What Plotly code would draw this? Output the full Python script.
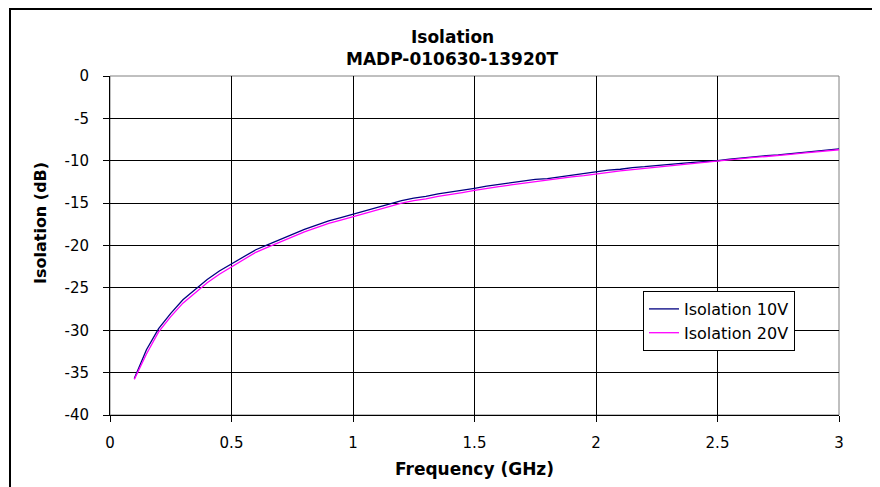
import plotly.graph_objects as go

freq = [0.10, 0.15, 0.20, 0.25, 0.30, 0.35, 0.40, 0.45, 0.50, 0.55,
        0.60, 0.65, 0.70, 0.75, 0.80, 0.85, 0.90, 0.95, 1.00, 1.05,
        1.10, 1.15, 1.20, 1.25, 1.30, 1.35, 1.40, 1.45, 1.50, 1.55,
        1.60, 1.65, 1.70, 1.75, 1.80, 1.85, 1.90, 1.95, 2.00, 2.05,
        2.10, 2.15, 2.20, 2.25, 2.30, 2.35, 2.40, 2.45, 2.50, 2.55,
        2.60, 2.65, 2.70, 2.75, 2.80, 2.85, 2.90, 2.95, 3.00]

iso_10v = [-35.7, -32.3, -29.8, -28.0, -26.4, -25.2, -24.0, -23.0, -22.2, -21.3,
           -20.5, -19.9, -19.3, -18.7, -18.1, -17.6, -17.1, -16.7, -16.3, -15.9,
           -15.5, -15.1, -14.7, -14.4, -14.2, -13.9, -13.7, -13.5, -13.25, -13.0,
           -12.8, -12.6, -12.4, -12.2, -12.1, -11.9, -11.7, -11.5, -11.3, -11.1,
           -11.0, -10.8, -10.7, -10.55, -10.4, -10.3, -10.2, -10.1, -10.0, -9.8,
           -9.65, -9.5, -9.4, -9.3, -9.15, -9.0, -8.85, -8.75, -8.6]

iso_20v = [-35.8, -32.8, -30.2, -28.4, -26.8, -25.6, -24.4, -23.4, -22.5, -21.6,
           -20.8, -20.2, -19.6, -19.0, -18.4, -17.9, -17.4, -17.0, -16.6, -16.2,
           -15.8, -15.4, -15.0, -14.7, -14.5, -14.2, -14.0, -13.75, -13.5, -13.25,
           -13.05, -12.85, -12.65, -12.45, -12.3, -12.1, -11.9, -11.75, -11.55, -11.35,
           -11.2, -11.05, -10.9, -10.75, -10.6, -10.45, -10.35, -10.2, -10.05, -9.9,
           -9.75, -9.6, -9.5, -9.4, -9.25, -9.1, -8.95, -8.85, -8.7]

x_ticks = [0, 0.5, 1, 1.5, 2, 2.5, 3]
x_tick_labels = ["0", "0.5", "1", "1.5", "2", "2.5", "3"]
y_ticks = [0, -5, -10, -15, -20, -25, -30, -35, -40]
y_tick_labels = ["0", "-5", "-10", "-15", "-20", "-25", "-30", "-35", "-40"]

FONT = "DejaVu Sans"
OFF = 8  # default page body margin
W, H = 880 - OFF, 487 - OFF
# page-pixel plot edges: left 110, right 839, top 76, bottom 415
L, T = 110 - OFF, 76 - OFF
R = W - (839 - OFF)
B = H - (415 - OFF)
PW, PH = W - L - R, H - T - B


def px(xp):
    return (xp - OFF - L) / PW


def py(yp):
    return (H - B - (yp - OFF)) / PH


fig = go.Figure()
fig.add_trace(go.Scatter(x=freq, y=iso_10v, mode="lines", name="Isolation 10V",
                         line=dict(color="#000080", width=1.3)))
fig.add_trace(go.Scatter(x=freq, y=iso_20v, mode="lines", name="Isolation 20V",
                         line=dict(color="#FF00FF", width=1.3)))

bx0, bx1, by0, by1 = px(10), px(1000), py(600), py(9)
fig.update_layout(
    width=W, height=H,
    margin=dict(l=L, r=R, t=T, b=B),
    paper_bgcolor="white", plot_bgcolor="white",
    font=dict(family=FONT, color="black", size=15),
    showlegend=True,
    legend=dict(x=px(643), y=py(291), xanchor="left", yanchor="top",
                bgcolor="white", bordercolor="black", borderwidth=1,
                font=dict(family=FONT, size=16, color="black"),
                tracegroupgap=0, itemwidth=30),
    xaxis=dict(range=[0, 3], tickvals=x_ticks, ticktext=x_tick_labels,
               showgrid=True, gridcolor="black", gridwidth=1,
               zeroline=False, showline=True, linecolor="black", linewidth=1,
               ticks="outside", ticklen=6, tickcolor="black",
               ticklabelstandoff=8, tickfont=dict(size=15)),
    yaxis=dict(range=[-40, 0], tickvals=y_ticks, ticktext=y_tick_labels,
               showgrid=True, gridcolor="black", gridwidth=1,
               zeroline=False, showline=True, linecolor="black", linewidth=1,
               ticks="outside", ticklen=6, tickcolor="black",
               ticklabelstandoff=11, tickfont=dict(size=15)),
    shapes=[
        dict(type="rect", xref="paper", yref="paper", x0=0, x1=1, y0=0, y1=1,
             line=dict(color="#808080", width=1), layer="below"),
        dict(type="path", xref="paper", yref="paper",
             path=f"M {bx0},{by0} L {bx0},{by1} L {bx1},{by1}",
             line=dict(color="black", width=2), layer="below"),
    ],
    annotations=[
        dict(text="<b>Isolation</b>", xref="paper", yref="paper",
             x=px(452), y=py(37), xanchor="center", yanchor="middle",
             showarrow=False, font=dict(size=17, family=FONT)),
        dict(text="<b>MADP-010630-13920T</b>", xref="paper", yref="paper",
             x=px(452), y=py(59), xanchor="center", yanchor="middle",
             showarrow=False, font=dict(size=17, family=FONT)),
        dict(text="<b>Isolation (dB)</b>", xref="paper", yref="paper",
             x=px(40), y=py(223), xanchor="center", yanchor="middle",
             textangle=-90, showarrow=False, font=dict(size=16, family=FONT)),
        dict(text="<b>Frequency (GHz)</b>", xref="paper", yref="paper",
             x=px(474), y=py(469), xanchor="center", yanchor="middle",
             showarrow=False, font=dict(size=17, family=FONT)),
    ],
)

fig.write_html("out.html")
